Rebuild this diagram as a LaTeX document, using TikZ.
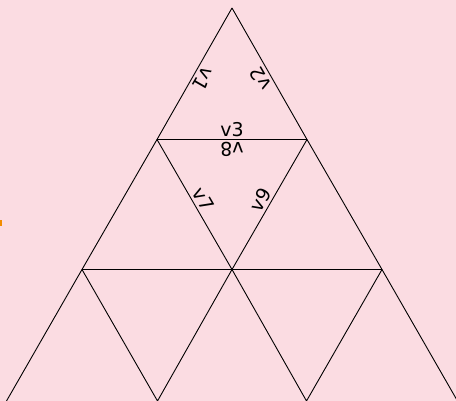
\documentclass[tikz,border=0pt]{standalone}
\usepackage{fontspec}
\setmainfont{DejaVu Sans}
\definecolor{bgpink}{HTML}{FBDCE2}
\definecolor{markorange}{HTML}{F28C00}
\tikzset{
  edge/.style={draw=black, line width=0.9pt},
  vlabel/.style={inner sep=0pt, anchor=base, font=\fontsize{19}{19}\selectfont}
}
\begin{document}
\begin{tikzpicture}[x=1pt,y=-1pt]
\fill[bgpink] (0,0) rectangle (456,401);
\useasboundingbox (0,0) rectangle (456,401);
\coordinate (A) at (232,8);
\coordinate (B1) at (157,139.5);
\coordinate (B2) at (307,139.5);
\coordinate (C1) at (82,269.5);
\coordinate (C2) at (232,269.5);
\coordinate (C3) at (382,269.5);
\coordinate (D1) at (6.5,401);
\coordinate (D2) at (157.5,401);
\coordinate (D3) at (306.5,401);
\coordinate (D4) at (457.5,401);
\begin{scope}
\clip (0,0) rectangle (456,401);
\draw[edge] (A) -- (B1) -- (C1) -- (D1);
\draw[edge] (A) -- (B2) -- (C3) -- (D4);
\draw[edge] (B1) -- (B2);
\draw[edge] (C1) -- (C3);
\draw[edge] (B1) -- (C2) -- (B2);
\draw[edge] (C1) -- (D2) -- (C2) -- (D3) -- (C3);
\end{scope}
\fill[markorange] (0,220) rectangle (2,226);
\node[vlabel, rotate=240] (v1) at (197.4,75.4) {v1};
\node[vlabel, rotate=120] (v2) at (266.6,75.4) {v2};
\node[vlabel] (v3) at (232,136.2) {v3};
\node[vlabel, rotate=180] (v8) at (232,142.8) {v8};
\node[vlabel, rotate=300] (v7) at (197.4,202.9) {v7};
\node[vlabel, rotate=60] (v9) at (266.6,202.9) {v9};
\end{tikzpicture}
\end{document}
